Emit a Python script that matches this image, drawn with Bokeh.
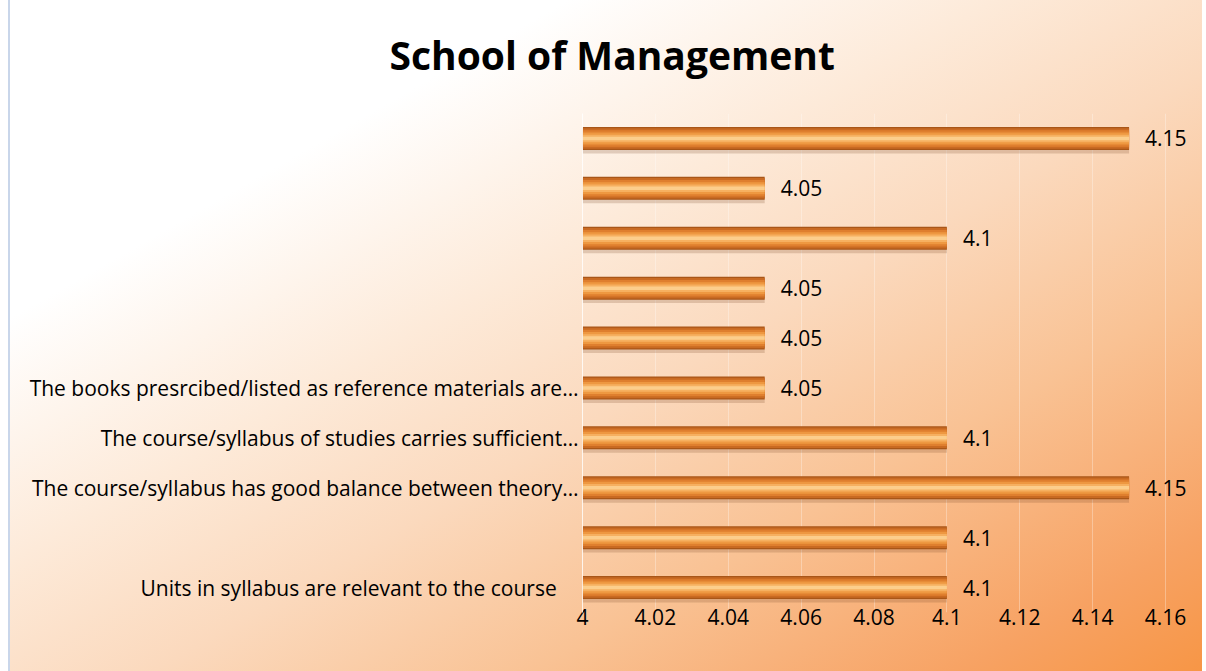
from bokeh.plotting import figure
from bokeh.models import ColumnDataSource, FixedTicker, NumeralTickFormatter, LabelSet, Range1d
from bokeh.core.properties import value
from bokeh.embed import file_html
from bokeh.resources import INLINE

# ---- data ----
title_text = "School of Management"
positions = [1, 2, 3, 4, 5, 6, 7, 8, 9, 10]  # bottom to top
category_labels = [
    "Units in syllabus are relevant to the course\u00a0\u00a0\u00a0\u00a0",
    "",
    "The course/syllabus has good balance between theory…",
    "The course/syllabus of studies carries sufficient…",
    "The books presrcibed/listed as reference materials are…",
    "",
    "",
    "",
    "",
    "",
]
values = [4.1, 4.1, 4.15, 4.1, 4.05, 4.05, 4.05, 4.1, 4.05, 4.15]
x_ticks = [4, 4.02, 4.04, 4.06, 4.08, 4.1, 4.12, 4.14, 4.16]
x_start = 4.0
x_end = 4.1707
y_lo, y_hi = 0.5, 10.5

src = ColumnDataSource(dict(
    y=positions,
    y_shadow=[p - 0.07 for p in positions],
    v=values,
    lbl=[str(v) for v in values],
))

FONT = "Open Sans"

p = figure(width=1194, height=679, output_backend="svg", toolbar_location=None,
           x_range=Range1d(x_start, x_end), y_range=Range1d(y_lo, y_hi),
           min_border_left=572, min_border_right=0, min_border_top=10, min_border_bottom=59,
           title=title_text)
p.background_fill_color = None
p.border_fill_color = None
p.outline_line_color = None
p.styles = {
    "background": "linear-gradient(to bottom right, #FFFFFF 0%, #FFFFFF 24%, #FDEAD9 42%, #FBD9BD 56%, #F9C294 72%, #F7A263 90%, #F79646 100%)",
    "border-left": "2px solid #C9D6EA",
    "margin-left": "8px",
    "margin-top": "-8px",
}

p.title.text_font = FONT
p.title.text_font_size = "39px"
p.title.text_font_style = "bold"
p.title.text_color = "#000000"
p.title.align = "left"
p.title.offset = -193
p.title.standoff = 66

# bars: shadow + layered shading
p.hbar(y="y_shadow", left=x_start, right="v", height=0.46, source=src,
       fill_color="#7A4A28", fill_alpha=0.22, line_color=None)
layers = [(0.46, "#A85618"), (0.41, "#C96A22"), (0.33, "#DF7F2E"),
          (0.24, "#EE9841"), (0.15, "#F6B060"), (0.07, "#FCCE8C")]
for h, c in layers:
    p.hbar(y="y", left=x_start, right="v", height=h, source=src,
           fill_color=c, line_color=None)

labels = LabelSet(x="v", y="y", text="lbl", source=src, x_offset=16,
                  text_baseline="middle", text_align="left",
                  text_font=value(FONT), text_font_size=value("21px"), text_color="#000000")
p.add_layout(labels)

# x axis
p.xaxis.ticker = FixedTicker(ticks=x_ticks)
p.xaxis.formatter = NumeralTickFormatter(format="0.[00]")
p.xaxis.axis_line_color = None
p.xaxis.major_tick_line_color = None
p.xaxis.minor_tick_line_color = None
p.xaxis.major_tick_out = 0
p.xaxis.major_label_standoff = -4
p.xaxis.major_label_text_font = FONT
p.xaxis.major_label_text_font_size = "21px"
p.xaxis.major_label_text_color = "#000000"

# y axis
p.yaxis.ticker = FixedTicker(ticks=positions)
p.yaxis.major_label_overrides = {pos: lab for pos, lab in zip(positions, category_labels)}
p.yaxis.axis_line_color = "#FFFFFF"
p.yaxis.axis_line_alpha = 0.8
p.yaxis.major_tick_line_color = None
p.yaxis.minor_tick_line_color = None
p.yaxis.major_tick_out = 0
p.yaxis.major_label_standoff = 4
p.yaxis.major_label_text_font = FONT
p.yaxis.major_label_text_font_size = "21px"
p.yaxis.major_label_text_color = "#000000"

p.xgrid.grid_line_color = "#FFFFFF"
p.xgrid.grid_line_alpha = 0.3
p.ygrid.grid_line_color = None

open("out.html", "w").write(file_html(p, INLINE))
